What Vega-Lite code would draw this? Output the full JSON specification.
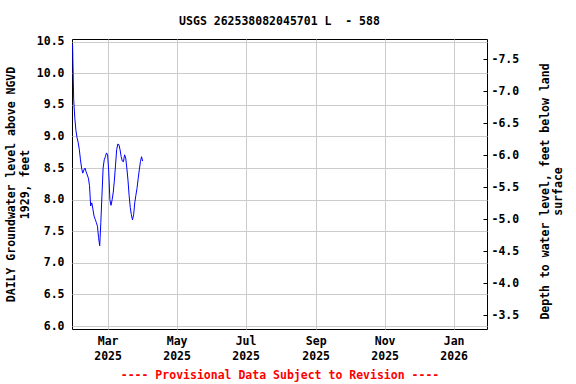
{
  "$schema": "https://vega.github.io/schema/vega-lite/v6.json",
  "width": 415,
  "height": 290,
  "autosize": "none",
  "padding": {"left": 72, "top": 39, "right": 89, "bottom": 55},
  "title": {"text": "USGS 262538082045701 L\u00a0 - 588", "frame": "group", "anchor": "middle", "offset": 8, "font": "DejaVu Sans Mono", "fontSize": 11.5, "fontWeight": "bold", "color": "black"},
  "data": {"values": [
    {"date": "2025-01-29", "level": 10.46, "depth": -7.76},
    {"date": "2025-01-30", "level": 9.58, "depth": -6.88},
    {"date": "2025-01-31", "level": 9.29, "depth": -6.59},
    {"date": "2025-02-01", "level": 9.09, "depth": -6.39},
    {"date": "2025-02-02", "level": 8.98, "depth": -6.28},
    {"date": "2025-02-03", "level": 8.90, "depth": -6.20},
    {"date": "2025-02-04", "level": 8.79, "depth": -6.09},
    {"date": "2025-02-05", "level": 8.63, "depth": -5.93},
    {"date": "2025-02-06", "level": 8.50, "depth": -5.80},
    {"date": "2025-02-07", "level": 8.42, "depth": -5.72},
    {"date": "2025-02-08", "level": 8.47, "depth": -5.77},
    {"date": "2025-02-09", "level": 8.50, "depth": -5.80},
    {"date": "2025-02-10", "level": 8.44, "depth": -5.74},
    {"date": "2025-02-11", "level": 8.39, "depth": -5.69},
    {"date": "2025-02-12", "level": 8.34, "depth": -5.64},
    {"date": "2025-02-13", "level": 8.22, "depth": -5.52},
    {"date": "2025-02-14", "level": 7.90, "depth": -5.20},
    {"date": "2025-02-15", "level": 7.95, "depth": -5.25},
    {"date": "2025-02-16", "level": 7.85, "depth": -5.15},
    {"date": "2025-02-17", "level": 7.74, "depth": -5.04},
    {"date": "2025-02-18", "level": 7.69, "depth": -4.99},
    {"date": "2025-02-19", "level": 7.64, "depth": -4.94},
    {"date": "2025-02-20", "level": 7.58, "depth": -4.88},
    {"date": "2025-02-21", "level": 7.40, "depth": -4.70},
    {"date": "2025-02-22", "level": 7.27, "depth": -4.57},
    {"date": "2025-02-23", "level": 7.64, "depth": -4.94},
    {"date": "2025-02-24", "level": 8.07, "depth": -5.37},
    {"date": "2025-02-25", "level": 8.50, "depth": -5.80},
    {"date": "2025-02-26", "level": 8.63, "depth": -5.93},
    {"date": "2025-02-27", "level": 8.68, "depth": -5.98},
    {"date": "2025-02-28", "level": 8.74, "depth": -6.04},
    {"date": "2025-03-01", "level": 8.71, "depth": -6.01},
    {"date": "2025-03-02", "level": 8.44, "depth": -5.74},
    {"date": "2025-03-03", "level": 8.00, "depth": -5.30},
    {"date": "2025-03-04", "level": 7.91, "depth": -5.21},
    {"date": "2025-03-05", "level": 8.00, "depth": -5.30},
    {"date": "2025-03-06", "level": 8.12, "depth": -5.42},
    {"date": "2025-03-07", "level": 8.31, "depth": -5.61},
    {"date": "2025-03-08", "level": 8.55, "depth": -5.85},
    {"date": "2025-03-09", "level": 8.79, "depth": -6.09},
    {"date": "2025-03-10", "level": 8.88, "depth": -6.18},
    {"date": "2025-03-11", "level": 8.87, "depth": -6.17},
    {"date": "2025-03-12", "level": 8.79, "depth": -6.09},
    {"date": "2025-03-13", "level": 8.68, "depth": -5.98},
    {"date": "2025-03-14", "level": 8.61, "depth": -5.91},
    {"date": "2025-03-15", "level": 8.60, "depth": -5.90},
    {"date": "2025-03-16", "level": 8.71, "depth": -6.01},
    {"date": "2025-03-17", "level": 8.66, "depth": -5.96},
    {"date": "2025-03-18", "level": 8.50, "depth": -5.80},
    {"date": "2025-03-19", "level": 8.31, "depth": -5.61},
    {"date": "2025-03-20", "level": 8.07, "depth": -5.37},
    {"date": "2025-03-21", "level": 7.88, "depth": -5.18},
    {"date": "2025-03-22", "level": 7.76, "depth": -5.06},
    {"date": "2025-03-23", "level": 7.68, "depth": -4.98},
    {"date": "2025-03-24", "level": 7.76, "depth": -5.06},
    {"date": "2025-03-25", "level": 7.95, "depth": -5.25},
    {"date": "2025-03-26", "level": 8.07, "depth": -5.37},
    {"date": "2025-03-27", "level": 8.18, "depth": -5.48},
    {"date": "2025-03-28", "level": 8.33, "depth": -5.63},
    {"date": "2025-03-29", "level": 8.47, "depth": -5.77},
    {"date": "2025-03-30", "level": 8.60, "depth": -5.90},
    {"date": "2025-03-31", "level": 8.68, "depth": -5.98},
    {"date": "2025-04-01", "level": 8.61, "depth": -5.91}
  ]},
  "encoding": {
    "x": {
      "field": "date", "type": "temporal",
      "scale": {"type": "utc", "domain": [
        {"year": 2025, "month": 1, "date": 28, "hours": 12, "utc": true},
        {"year": 2026, "month": 1, "date": 30, "hours": 12, "utc": true}
      ]},
      "axis": {
        "values": [
          {"year": 2025, "month": 3, "date": 1, "utc": true},
          {"year": 2025, "month": 5, "date": 1, "utc": true},
          {"year": 2025, "month": 7, "date": 1, "utc": true},
          {"year": 2025, "month": 9, "date": 1, "utc": true},
          {"year": 2025, "month": 11, "date": 1, "utc": true},
          {"year": 2026, "month": 1, "date": 1, "utc": true}
        ],
        "labelExpr": "[utcFormat(datum.value, '%b'), utcFormat(datum.value, '%Y')]",
        "labelLineHeight": 15,
        "labelPadding": 6,
        "ticks": false,
        "domain": false,
        "grid": true,
        "title": "---- Provisional Data Subject to Revision ----",
        "titleColor": "#ff0000",
        "titlePadding": 8
      }
    }
  },
  "layer": [
    {
      "mark": {"type": "line", "color": "#0000ff", "strokeWidth": 1},
      "encoding": {
        "y": {
          "field": "level", "type": "quantitative",
          "scale": {"domain": [5.953, 10.543], "nice": false, "zero": false},
          "axis": {
            "values": [6.0, 6.5, 7.0, 7.5, 8.0, 8.5, 9.0, 9.5, 10.0, 10.5],
            "format": ".1f",
            "ticks": false,
            "domain": false,
            "grid": true,
            "labelPadding": 8,
            "title": ["DAILY Groundwater level above NGVD", "1929, feet"],
            "titlePadding": 6
          }
        }
      }
    },
    {
      "mark": {"type": "line", "strokeOpacity": 0},
      "encoding": {
        "y": {
          "field": "depth", "type": "quantitative",
          "scale": {"domain": [-7.817, -3.286], "reverse": true, "nice": false, "zero": false},
          "axis": {
            "orient": "right",
            "values": [-7.5, -7.0, -6.5, -6.0, -5.5, -5.0, -4.5, -4.0, -3.5],
            "labelExpr": "replace(format(datum.value, '.1f'), '\u2212', '-')",
            "grid": false,
            "domain": false,
            "ticks": true,
            "tickSize": -4,
            "tickColor": "black",
            "labelPadding": 8,
            "title": ["Depth to water level, feet below land", "surface"],
            "titleAngle": 270,
            "titleBaseline": "top",
            "titlePadding": 7,
            "titleY": 152
          }
        }
      }
    }
  ],
  "resolve": {"scale": {"y": "independent"}},
  "config": {
    "background": "white",
    "view": {"stroke": "black", "strokeWidth": 1},
    "axis": {
      "labelFont": "DejaVu Sans Mono",
      "labelFontSize": 11.5,
      "labelFontWeight": "bold",
      "labelColor": "black",
      "titleFont": "DejaVu Sans Mono",
      "titleFontSize": 11.5,
      "titleFontWeight": "bold",
      "titleColor": "black",
      "gridColor": "#cccccc",
      "gridWidth": 1,
      "gridOpacity": 1
    }
  }
}
